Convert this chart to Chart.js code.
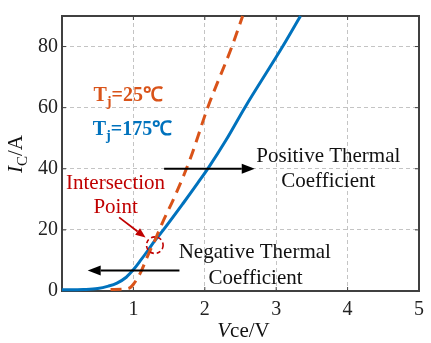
<!DOCTYPE html>
<html>
<head>
<meta charset="utf-8">
<script src="https://cdn.jsdelivr.net/npm/chart.js@4/dist/chart.umd.min.js"></script>
<style>
html,body{margin:0;padding:0;background:#fff;}
#wrap{width:431px;height:343px;position:relative;}
</style>
</head>
<body>
<div id="wrap"><canvas id="c" width="431" height="343"></canvas></div>
<script>
// ---- data ----
const blueVce = [0, 0.3, 0.5, 0.65, 0.77, 0.9, 1.0, 1.1, 1.21, 1.3, 1.42, 1.7, 1.9, 2.05, 2.3, 2.56, 3.09, 3.34];
const blueIc  = [0.4, 0.5, 0.8, 1.6, 2.6, 4.5, 7, 10, 13.5, 16.5, 20, 28.8, 35.3, 40.3, 49.5, 60, 80, 90];
const orangeVce = [0.68, 0.85, 0.95, 1.0, 1.1, 1.2, 1.3, 1.4, 1.58, 1.8, 2.04, 2.38, 2.53];
const orangeIc  = [0.5, 0.6, 1.0, 2.2, 6, 11.5, 16.5, 22, 31, 43.5, 60, 80, 90];
const xTicks = [0, 1, 2, 3, 4, 5];
const yTicks = [0, 20, 40, 60, 80];
const seriesNames = ['Tj=25℃', 'Tj=175℃'];

const BLUE = '#0072BD', ORANGE = '#D95319', RED = '#C00000';
const SERIF = "'Liberation Serif','Times New Roman',serif";

function pts(xs, ys){ return xs.map((x,i)=>({x:x, y:ys[i]})); }

function setFont(ctx, s, size){
  const fs = s.sub ? size*0.72 : size;
  ctx.font = (s.italic?'italic ':'') + (s.bold?'bold ':'') + fs + 'px ' + SERIF;
}
function richWidth(ctx, segs, size){
  let w = 0;
  segs.forEach(s=>{ setFont(ctx, s, size); w += ctx.measureText(s.t).width; });
  return w;
}
function drawRich(ctx, segs, x, y, size, color, align){
  const w = richWidth(ctx, segs, size);
  let cx = align === 'center' ? x - w/2 : x;
  ctx.textBaseline = 'alphabetic';
  ctx.textAlign = 'left';
  segs.forEach(s=>{
    setFont(ctx, s, size);
    ctx.fillStyle = color;
    ctx.fillText(s.t, cx, y + (s.sub ? size*0.25 : 0));
    cx += ctx.measureText(s.t).width;
  });
}
function arrow(ctx, x1, y1, x2, y2, color, lw, hl, hw){
  const a = Math.atan2(y2-y1, x2-x1);
  const bx = x2 - hl*Math.cos(a), by = y2 - hl*Math.sin(a);
  ctx.strokeStyle = color; ctx.lineWidth = lw; ctx.setLineDash([]);
  ctx.beginPath(); ctx.moveTo(x1,y1); ctx.lineTo(bx,by); ctx.stroke();
  ctx.fillStyle = color;
  ctx.beginPath();
  ctx.moveTo(x2,y2);
  ctx.lineTo(bx + hw*Math.sin(a), by - hw*Math.cos(a));
  ctx.lineTo(bx - hw*Math.sin(a), by + hw*Math.cos(a));
  ctx.closePath(); ctx.fill();
}

const frame = {
  id: 'frame',
  beforeDatasetsDraw(chart){
    const ctx = chart.ctx, xs = chart.scales.x, ys = chart.scales.y, ca = chart.chartArea;
    ctx.save();
    ctx.strokeStyle = '#404040'; ctx.lineWidth = 2; ctx.setLineDash([]);
    ctx.strokeRect(ca.left, ca.top, ca.right-ca.left, ca.bottom-ca.top);
    ctx.lineWidth = 1;
    xTicks.forEach(v=>{ const x = xs.getPixelForValue(v);
      ctx.beginPath(); ctx.moveTo(x, ca.top); ctx.lineTo(x, ca.top+4); ctx.stroke();
      ctx.beginPath(); ctx.moveTo(x, ca.bottom); ctx.lineTo(x, ca.bottom-4); ctx.stroke(); });
    yTicks.forEach(v=>{ const y = ys.getPixelForValue(v);
      ctx.beginPath(); ctx.moveTo(ca.right, y); ctx.lineTo(ca.right-4, y); ctx.stroke();
      ctx.beginPath(); ctx.moveTo(ca.left, y); ctx.lineTo(ca.left+4, y); ctx.stroke(); });
    ctx.restore();
  }
};

const annotations = {
  id: 'annotations',
  afterDraw(chart){
    const ctx = chart.ctx, xs = chart.scales.x, ys = chart.scales.y, ca = chart.chartArea;
    const px = v => xs.getPixelForValue(v), py = v => ys.getPixelForValue(v);
    ctx.save();
    drawRich(ctx, [{t:'T',bold:true},{t:'j',bold:true,sub:true},{t:'=25℃',bold:true}], px(0.44), py(62.3), 20, ORANGE, 'left');
    drawRich(ctx, [{t:'T',bold:true},{t:'j',bold:true,sub:true},{t:'=175℃',bold:true}], px(0.43), py(51.2), 20, BLUE, 'left');

    drawRich(ctx, [{t:'Positive Thermal'}], px(3.73), py(42.1), 21, '#111', 'center');
    drawRich(ctx, [{t:'Coefficient'}], px(3.73), py(33.9), 21, '#111', 'center');
    drawRich(ctx, [{t:'Negative Thermal'}], px(2.70), py(10.8), 21, '#111', 'center');
    drawRich(ctx, [{t:'Coefficient'}], px(2.71), py(2.3), 21, '#111', 'center');
    drawRich(ctx, [{t:'Intersection'}], px(0.75), py(33.5), 21, RED, 'center');
    drawRich(ctx, [{t:'Point'}], px(0.75), py(25.6), 21, RED, 'center');

    arrow(ctx, px(1.43), py(40), px(2.70), py(40), '#000', 2, 13, 5);
    arrow(ctx, px(1.645), py(6.7), px(0.36), py(6.7), '#000', 2, 13, 5);
    arrow(ctx, px(0.80), py(24.1), px(1.17), py(17.5), RED, 1.8, 10, 4);

    ctx.strokeStyle = RED; ctx.lineWidth = 1.6; ctx.setLineDash([4,3]);
    ctx.beginPath(); ctx.arc(px(1.30), py(15.0), 8.3, 0, Math.PI*2); ctx.stroke();
    ctx.setLineDash([]);

    drawRich(ctx, [{t:'V',italic:true},{t:'ce/V'}], (ca.left+ca.right)/2 + 3, 337, 21, '#111', 'center');
    ctx.save();
    ctx.translate(22, 154);
    ctx.rotate(-Math.PI/2);
    drawRich(ctx, [{t:'I',italic:true},{t:'C',sub:true},{t:'/A'}], 0, 0, 21, '#111', 'center');
    ctx.restore();
    ctx.restore();
  }
};

new Chart(document.getElementById('c'), {
  type: 'scatter',
  data: {
    datasets: [
      { label: seriesNames[0], data: pts(orangeVce, orangeIc), showLine: true, borderColor: ORANGE,
        borderWidth: 3, borderDash: [11,7], pointRadius: 0, cubicInterpolationMode: 'monotone', fill: false, clip: 3 },
      { label: seriesNames[1], data: pts(blueVce, blueIc), showLine: true, borderColor: BLUE,
        borderWidth: 3, pointRadius: 0, cubicInterpolationMode: 'monotone', fill: false, clip: 3 }
    ]
  },
  options: {
    responsive: false,
    animation: false,
    devicePixelRatio: 1,
    layout: { padding: { top: 7, right: 5, left: 0, bottom: 0 } },
    plugins: { legend: { display: false }, tooltip: { enabled: false } },
    scales: {
      x: {
        type: 'linear', min: 0, max: 5,
        afterBuildTicks: s => { s.ticks = xTicks.map(v=>({value:v})); },
        afterFit: s => { s.height = 52; },
        grid: { color: '#c4c4c4', lineWidth: 1, drawTicks: false },
        border: { display: true, color: '#404040', width: 2, dash: [4,3] },
        ticks: { padding: 7, color: '#222', font: { family: SERIF, size: 20 },
          callback: v => v === 0 ? '' : String(v) }
      },
      y: {
        type: 'linear', min: 0, max: 90,
        afterBuildTicks: s => { s.ticks = yTicks.map(v=>({value:v})); },
        afterFit: s => { s.width = 62; },
        grid: { color: '#c4c4c4', lineWidth: 1, drawTicks: false },
        border: { display: true, color: '#404040', width: 2, dash: [4,3] },
        ticks: { padding: 4, color: '#222', font: { family: SERIF, size: 20 } }
      }
    }
  },
  plugins: [frame, annotations]
});
</script>
</body>
</html>
